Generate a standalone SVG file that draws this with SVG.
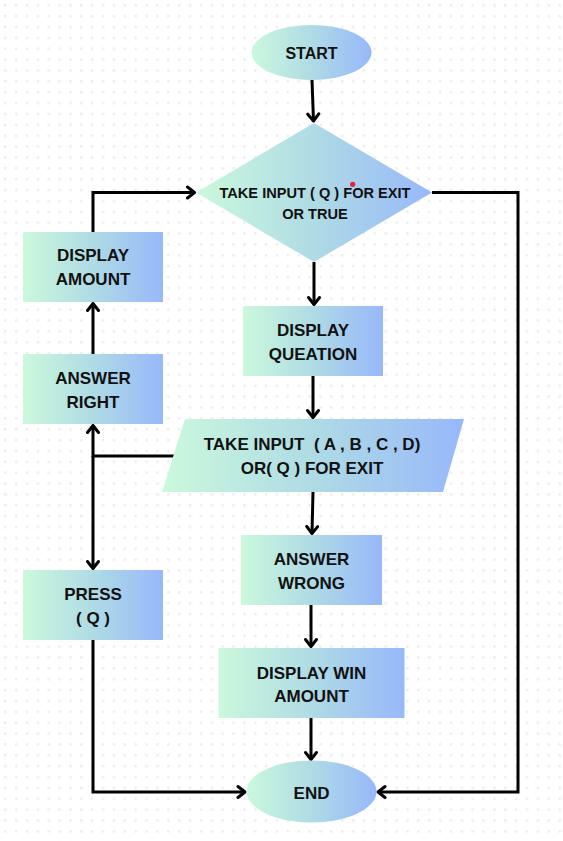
<svg xmlns="http://www.w3.org/2000/svg" width="563" height="841" viewBox="0 0 563 841">
<defs>
<pattern id="dots" patternUnits="userSpaceOnUse" x="0" y="0" width="10.87" height="10.87">
<rect x="4.1" y="4.1" width="2.4" height="2.4" fill="#ececec"/>
</pattern>
<linearGradient id="g" x1="0" y1="0" x2="1" y2="0">
<stop offset="0" stop-color="#cbf9dc"/>
<stop offset="0.5" stop-color="#afdbe5"/>
<stop offset="1" stop-color="#97b8fa"/>
</linearGradient>
<marker id="arr" viewBox="-10 -8 12 16" refX="0" refY="0" markerWidth="12" markerHeight="16" markerUnits="userSpaceOnUse" orient="auto">
<path d="M-7,-5.5 L0,0 L-7,5.5" fill="none" stroke="#000" stroke-width="3" stroke-linejoin="round" stroke-linecap="round"/>
</marker>
</defs>
<style>
.s{fill:url(#g);}
.t{font-family:"Liberation Sans",Arial,sans-serif;font-weight:bold;font-size:17px;fill:#111;text-anchor:middle;white-space:pre;}
.d{font-size:14.6px;}
.c{fill:none;stroke:#000;stroke-width:3;marker-end:url(#arr);}
</style>
<rect width="563" height="841" fill="#ffffff"/>
<rect width="563" height="841" fill="url(#dots)"/>

<g id="connectors">
<path class="c" d="M312,80 L313.5,121"/>
<path class="c" d="M314,262 L314,304.5"/>
<path class="c" d="M313,376 L313,417.5"/>
<path class="c" d="M313,492 L312,533.5"/>
<path class="c" d="M311,605 L311,646.5"/>
<path class="c" d="M311,718 L311,759.5"/>
<path class="c" d="M432,192.5 H518 V792 H378"/>
<path class="c" d="M174,456 H93 V425.5"/>
<path class="c" d="M93,456 V568.5"/>
<path class="c" d="M93,354 V303.5"/>
<path class="c" d="M93,232 V192.5 H194.5"/>
<path class="c" d="M93,640 V792 H245"/>
</g>

<g id="start">
<ellipse class="s" cx="311.5" cy="52.5" rx="60" ry="27.5"/>
<text class="t" x="311.5" y="59" style="font-size:16px">START</text>
</g>

<g id="decision">
<polygon class="s" points="314,123 432,192.5 314,262 196,192.5"/>
<text class="t d" x="315" y="198">TAKE INPUT ( Q ) FOR EXIT</text>
<text class="t d" x="315" y="219">OR TRUE</text>
<circle cx="352.7" cy="184.3" r="2.6" fill="#e3242b"/>
</g>

<g id="display-question">
<rect class="s" x="243" y="306" width="140" height="70"/>
<text class="t" x="313" y="335.5">DISPLAY</text>
<text class="t" x="313" y="360">QUEATION</text>
</g>

<g id="input">
<polygon class="s" points="185,419 464,419 443,492 162,492"/>
<text class="t" x="312" y="450">TAKE INPUT  ( A , B , C , D)</text>
<text class="t" x="312" y="474">OR( Q ) FOR EXIT</text>
</g>

<g id="answer-wrong">
<rect class="s" x="241" y="535" width="141" height="70"/>
<text class="t" x="311.5" y="565">ANSWER</text>
<text class="t" x="311.5" y="588.5">WRONG</text>
</g>

<g id="display-win">
<rect class="s" x="218.5" y="648" width="186" height="70"/>
<text class="t" x="311.5" y="678.5">DISPLAY WIN</text>
<text class="t" x="311.5" y="702">AMOUNT</text>
</g>

<g id="end">
<ellipse class="s" cx="311.5" cy="791.5" rx="65" ry="31"/>
<text class="t" x="311.5" y="799">END</text>
</g>

<g id="display-amount">
<rect class="s" x="23" y="232" width="140" height="70"/>
<text class="t" x="93" y="261">DISPLAY</text>
<text class="t" x="93" y="285">AMOUNT</text>
</g>

<g id="answer-right">
<rect class="s" x="23" y="354" width="140" height="70"/>
<text class="t" x="93" y="384">ANSWER</text>
<text class="t" x="93" y="407.5">RIGHT</text>
</g>

<g id="press-q">
<rect class="s" x="23" y="570" width="140" height="70"/>
<text class="t" x="93" y="600">PRESS</text>
<text class="t" x="93" y="623.5">( Q )</text>
</g>
</svg>
